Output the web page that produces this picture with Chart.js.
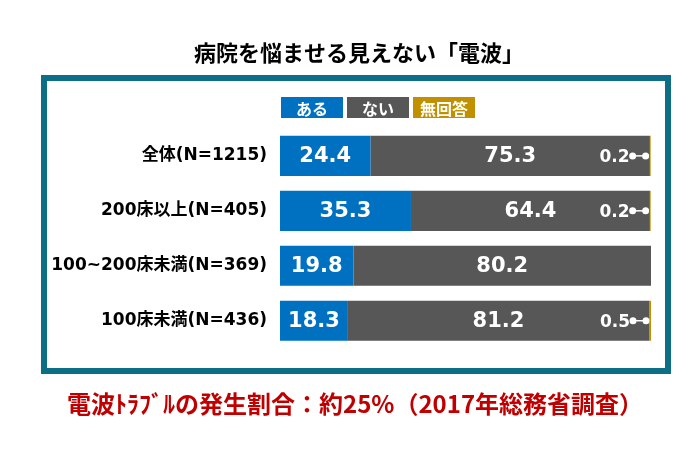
<!DOCTYPE html>
<html><head><meta charset="utf-8">
<script src="https://cdn.jsdelivr.net/npm/chart.js@4/dist/chart.umd.min.js"></script>
<style>html,body{margin:0;padding:0;background:#fff;}#wrap{width:700px;height:459px;position:relative;}</style>
</head><body><div id="wrap"><canvas id="c" width="700" height="459"></canvas></div>
<script>
const categories = ['全体(N=1215)', '200床以上(N=405)', '100~200床未満(N=369)', '100床未満(N=436)'];
const seriesNames = ['ある', 'ない', '無回答'];
const aru = [24.4, 35.3, 19.8, 18.3];
const nai = [75.3, 64.4, 80.2, 81.2];
const mukaitou = [0.2, 0.2, 0, 0.5];
const colors = ['#0070C0', '#575757', '#C09000'];
const titleText = '病院を悩ませる見えない「電波」';
const footerText = '電波ﾄﾗﾌﾞﾙの発生割合：約25%（2017年総務省調査）';

const FONT = '"DejaVu Sans", "Noto Sans CJK JP", sans-serif';

const framePlugin = {
  id: 'frame',
  beforeDraw(chart) {
    const ctx = chart.ctx;
    ctx.save();
    ctx.strokeStyle = '#0E6E87';
    ctx.lineWidth = 6;
    ctx.strokeRect(44, 78, 624, 293);
    ctx.restore();
  }
};

const legendBoxes = {
  id: 'legendBoxes',
  afterDraw(chart) {
    const ctx = chart.ctx;
    const ca = chart.chartArea;
    ctx.save();
    let x = ca.left + 1;
    const y = 97, h = 21, w = 62, gap = 4;
    chart.data.datasets.forEach((ds) => {
      ctx.fillStyle = ds.backgroundColor;
      ctx.fillRect(x, y, w, h);
      ctx.fillStyle = '#fff';
      ctx.font = 'bold 16px "Noto Sans CJK JP", sans-serif';
      ctx.textAlign = 'center';
      ctx.textBaseline = 'middle';
      ctx.fillText(ds.label, x + w / 2, y + h / 2 + 1);
      x += w + gap;
    });
    ctx.restore();
  }
};

const valueLabels = {
  id: 'valueLabels',
  afterDatasetsDraw(chart) {
    const ctx = chart.ctx;
    ctx.save();
    ctx.fillStyle = '#fff';
    ctx.strokeStyle = '#fff';
    ctx.textBaseline = 'middle';
    chart.data.datasets.forEach((ds, di) => {
      const meta = chart.getDatasetMeta(di);
      meta.data.forEach((el, i) => {
        const v = ds.data[i];
        if (!v) return;
        if (di < 2) {
          ctx.font = 'bold 21px ' + FONT;
          ctx.textAlign = 'center';
          ctx.fillText(v.toFixed(1), (el.x + el.base) / 2, el.y + 1);
        } else {
          const end = el.x;
          const d2 = end - 5, d1 = end - 18;
          ctx.font = 'bold 17px ' + FONT;
          ctx.textAlign = 'right';
          ctx.fillText(v.toFixed(1), end - 21, el.y + 2);
          ctx.lineWidth = 1.5;
          ctx.beginPath();
          ctx.moveTo(d1, el.y);
          ctx.lineTo(d2, el.y);
          ctx.stroke();
          ctx.beginPath(); ctx.arc(d1, el.y, 3.5, 0, Math.PI * 2); ctx.fill();
          ctx.beginPath(); ctx.arc(d2, el.y, 3.5, 0, Math.PI * 2); ctx.fill();
        }
      });
    });
    ctx.restore();
  }
};

new Chart(document.getElementById('c'), {
  type: 'bar',
  data: {
    labels: categories,
    datasets: [
      { label: seriesNames[0], data: aru, backgroundColor: colors[0] },
      { label: seriesNames[1], data: nai, backgroundColor: colors[1] },
      { label: seriesNames[2], data: mukaitou, backgroundColor: colors[2] }
    ]
  },
  options: {
    indexAxis: 'y',
    responsive: false,
    animation: false,
    layout: { padding: { left: 67, right: 49, top: 0, bottom: 0 } },
    datasets: { bar: { barPercentage: 0.73, categoryPercentage: 1, borderWidth: 0 } },
    scales: {
      x: { stacked: true, min: 0, max: 100, display: false },
      y: {
        stacked: true,
        grid: { display: false, drawTicks: false },
        border: { display: false },
        afterFit(scale) {
          scale.width = 213;
          scale._computeLabelArea = () => undefined;
        },
        ticks: { color: '#000', padding: 13, font: { family: FONT, size: 17, weight: 'bold' } }
      }
    },
    plugins: {
      legend: { display: false },
      tooltip: { enabled: false },
      title: {
        display: true, text: titleText, color: '#000',
        font: { family: '"Noto Sans CJK JP", sans-serif', size: 22, weight: 'bold' },
        padding: { top: 39, bottom: 63 }
      },
      subtitle: {
        display: true, position: 'bottom', align: 'start', text: footerText, color: '#C00000',
        font: { family: '"Noto Sans CJK JP", sans-serif', size: 24, weight: 'bold' },
        padding: { top: 41, bottom: 41 }
      }
    }
  },
  plugins: [framePlugin, legendBoxes, valueLabels]
});
</script></body></html>
